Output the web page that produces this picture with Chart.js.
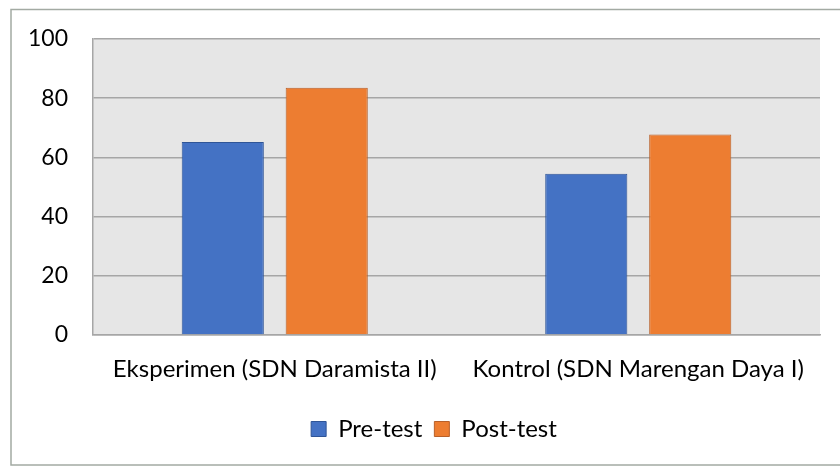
<!DOCTYPE html>
<html>
<head>
<meta charset="utf-8">
<script src="https://cdn.jsdelivr.net/npm/chart.js@4.4.1/dist/chart.umd.min.js"></script>
<style>
html,body{margin:0;padding:0;background:#fff;}
#wrap{width:840px;height:466px;position:relative;}
</style>
</head>
<body>
<div id="wrap"><canvas id="c" width="840" height="466"></canvas></div>
<script>
const categories = ["Eksperimen (SDN Daramista II)", "Kontrol (SDN Marengan Daya I)"];
const seriesNames = ["Pre-test", "Post-test"];
const preTest = [65.2, 54.5];
const postTest = [83.5, 67.7];
const yMin = 0, yMax = 100, yStep = 20;

const FONT = "Lato";

const bgPlugin = {
  id: 'bg',
  afterLayout(chart) {
    if (chart.legend) { chart.legend.left += 24; chart.legend.right += 24; }
  },
  beforeDraw(chart) {
    const ctx = chart.ctx, a = chart.chartArea;
    ctx.save();
    ctx.fillStyle = '#fff';
    ctx.fillRect(0, 0, chart.width, chart.height);
    ctx.strokeStyle = '#a3aaa3';
    ctx.lineWidth = 1.5;
    ctx.strokeRect(11, 9.5, chart.width + 10, 455.5);
    ctx.fillStyle = '#e6e6e6';
    ctx.fillRect(a.left, a.top, a.right - a.left, a.bottom - a.top);
    ctx.restore();
  }
};

new Chart(document.getElementById('c'), {
  type: 'bar',
  data: {
    labels: categories,
    datasets: [
      { label: seriesNames[0], data: preTest, backgroundColor: '#4472c4', borderColor: '#2f5597', borderWidth: 1 },
      { label: seriesNames[1], data: postTest, backgroundColor: '#ed7d31', borderColor: '#b8602a', borderWidth: 1 }
    ]
  },
  options: {
    responsive: false,
    animation: false,
    devicePixelRatio: 1,
    categoryPercentage: 0.572,
    barPercentage: 0.79,
    layout: { padding: { left: 0, right: 20, top: 39, bottom: 15 } },
    plugins: {
      tooltip: { enabled: false },
      legend: {
        position: 'bottom',
        labels: {
          boxWidth: 15, boxHeight: 15, padding: 12,
          color: '#000',
          font: { family: FONT, size: 24 }
        }
      }
    },
    scales: {
      x: {
        grid: { display: false, drawTicks: false },
        border: { display: true, color: '#a6a6a6', width: 1.5 },
        ticks: { color: '#000', font: { family: FONT, size: 24 }, padding: 20, maxRotation: 0 },
        afterFit(s) { s.height = 70; }
      },
      y: {
        min: yMin, max: yMax,
        grid: { color: '#a6a6a6', lineWidth: 1.5, drawTicks: false },
        border: { display: true, color: '#a6a6a6', width: 1.5 },
        ticks: { stepSize: yStep, color: '#000', font: { family: FONT, size: 23 }, padding: 25 },
        afterFit(s) { s.width = 93; }
      }
    }
  },
  plugins: [bgPlugin]
});
</script>
</body>
</html>
